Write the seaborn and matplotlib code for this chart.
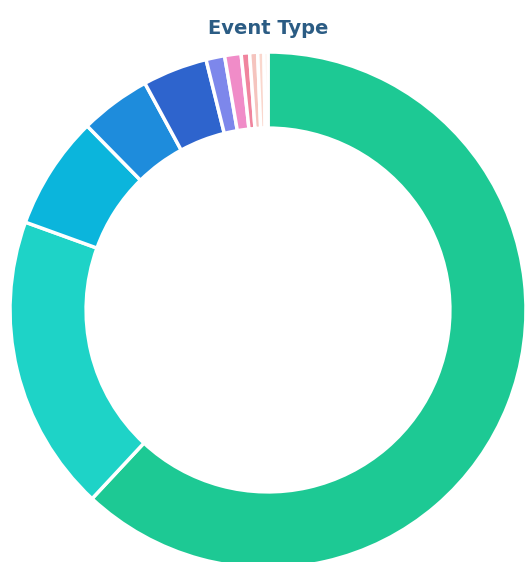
import matplotlib
matplotlib.use("Agg")
import matplotlib.pyplot as plt
import seaborn as sns

# Data (share of events, read from the ring; clockwise from 12 o'clock)
categories = ["Type A", "Type B", "Type C", "Type D", "Type E", "Type F",
              "Type G", "Type H", "Type I", "Type J", "Type K"]
values = [223, 66.9, 25.6, 16.0, 14.6, 4.2, 3.7, 1.9, 1.8, 1.4, 0.9]
colors = ["#1DC994", "#1ED3C7", "#0BB5DC", "#1E8CDC", "#2E64CD", "#7D87EB",
          "#F08CC8", "#F0849E", "#F5C4BE", "#FAD7CD", "#FCE6DC"]
title = "Event Type"

sns.set_theme(style="white")
plt.rcParams['font.family'] = ['DejaVu Sans']

W, H = 525, 562
fig = plt.figure(figsize=(W / 100, H / 100), dpi=100)
ax = fig.add_axes([0, 0, 1, 1])

cx, cy, R = 268, 310, 258
ax.pie(values, colors=colors, startangle=90, counterclock=False,
       radius=1.0, wedgeprops=dict(width=0.295, edgecolor="white", linewidth=2.5))
ax.set_aspect("auto")
ax.set_xlim(-cx / R, (W - cx) / R)
ax.set_ylim(-(H - cy) / R, cy / R)
ax.axis("off")

fig.text(268 / W, 1 - 34 / H, title, ha="center", va="baseline",
         fontsize=14, fontweight="bold", color="#2B5C84")

fig.savefig("out.png", dpi=100)
